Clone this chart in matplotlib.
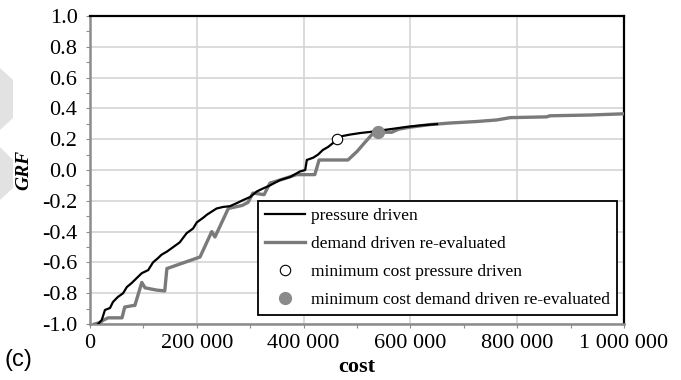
import numpy as np
import matplotlib.pyplot as plt
from matplotlib.patches import Polygon
from matplotlib.ticker import MultipleLocator, FuncFormatter

# pressure driven front
cost_pd = [15000, 22000, 28000, 37500, 43000, 52000, 62000, 69000, 78000, 88000,
           97000, 109000, 118000, 128000, 134000, 144000, 156000, 168000, 181000, 193000,
           200000, 212000, 219000, 228000, 237000, 249000, 262000, 275000, 287000, 300000,
           312000, 324000, 337000, 356000, 375000, 393000, 403000, 406000, 418000, 427000,
           436000, 446000, 455000, 463000, 472000, 487000, 506000, 524000, 540000, 562000,
           593000, 620000, 650000]
grf_pd = [-1.0, -0.974, -0.909, -0.896, -0.857, -0.825, -0.80, -0.76, -0.734, -0.70,
          -0.67, -0.65, -0.60, -0.57, -0.55, -0.53, -0.50, -0.47, -0.41, -0.38,
          -0.34, -0.31, -0.29, -0.27, -0.25, -0.24, -0.235, -0.215, -0.195, -0.175,
          -0.14, -0.12, -0.10, -0.065, -0.045, -0.01, 0.0, 0.065, 0.08, 0.10,
          0.13, 0.15, 0.175, 0.20, 0.22, 0.23, 0.24, 0.247, 0.255, 0.265,
          0.28, 0.29, 0.298]

# demand driven front, re-evaluated
cost_dd = [9000, 19000, 25000, 34000, 60000, 65000, 81000, 84000, 97000, 103000,
           125000, 140000, 144000, 206000, 228000, 234000, 259000, 285000, 296000, 305000,
           326000, 337000, 356000, 387000, 421000, 429000, 483000, 500000, 515000, 528000,
           540000, 565000, 578000, 599000, 637000, 674000, 725000, 762000, 787000, 855000,
           861000, 936000, 1000000]
grf_dd = [-1.0, -0.99, -0.975, -0.96, -0.96, -0.89, -0.88, -0.88, -0.73, -0.765,
          -0.78, -0.785, -0.64, -0.565, -0.40, -0.435, -0.25, -0.23, -0.21, -0.15,
          -0.16, -0.085, -0.065, -0.03, -0.03, 0.065, 0.065, 0.12, 0.18, 0.23,
          0.245, 0.245, 0.265, 0.278, 0.295, 0.305, 0.315, 0.325, 0.34, 0.345,
          0.352, 0.357, 0.365]

# minimum cost solutions
min_pd = (463000, 0.20)
min_dd = (540000, 0.245)

serif = ["Liberation Serif", "DejaVu Serif"]


def thousands(x, pos):
    return f"{int(round(x)):,}".replace(",", " ")


def make_plot(file_out):
    fig = plt.figure(figsize=(6.81, 3.80), dpi=100)
    ax = fig.add_axes([90/681, 1-324/380, 534/681, 308/380])

    # faint page marks on the left edge
    for pts in ([(0, 68), (13, 80), (13, 118), (0, 130)],
                [(0, 147), (13, 160), (13, 188), (0, 200)]):
        fig.patches.append(Polygon([(x/681, 1-y/380) for x, y in pts], closed=True,
                                   transform=fig.transFigure, facecolor="#e2e2e2",
                                   edgecolor="none", zorder=0))

    ax.plot(cost_pd, grf_pd, "-", color="black", lw=1.6, label="pressure driven", zorder=4)
    ax.plot(cost_dd, grf_dd, "-", color="#7a7a7a", lw=2.4, label="demand driven re-evaluated", zorder=3)
    ax.plot(*min_pd, "o", ms=7.5, mfc="white", mec="black", mew=0.8,
            label="minimum cost pressure driven", zorder=5)
    ax.plot(*min_dd, "o", ms=8.5, mfc="#8a8a8a", mec="#8a8a8a",
            label="minimum cost demand driven re-evaluated", zorder=5)

    ax.set_xlim(0, 1000000)
    ax.set_ylim(-1.0, 1.0)
    ax.xaxis.set_major_locator(MultipleLocator(200000))
    ax.xaxis.set_minor_locator(MultipleLocator(100000))
    ax.yaxis.set_major_locator(MultipleLocator(0.2))
    ax.yaxis.set_minor_locator(MultipleLocator(0.1))
    ax.xaxis.set_major_formatter(FuncFormatter(thousands))
    ax.yaxis.set_major_formatter(FuncFormatter(lambda y, p: f"{y:.1f}".replace("-0.0", "0.0")))
    ax.grid(True, which="major", color="#d4d4d4", lw=1.2)
    ax.set_axisbelow(True)

    for side in ("left", "bottom"):
        ax.spines[side].set_color("#8c8c8c")
        ax.spines[side].set_linewidth(1.8)
    for side in ("top", "right"):
        ax.spines[side].set_color("black")
        ax.spines[side].set_linewidth(1.6)

    ax.tick_params(which="both", direction="out", length=3, width=0.8, color="#8c8c8c")
    ax.tick_params(axis="y", which="major", pad=6)
    ax.tick_params(axis="x", which="major", pad=4)
    for lab in ax.get_xticklabels() + ax.get_yticklabels():
        lab.set_family(serif)
        lab.set_fontsize(16)

    ax.set_ylabel("GRF", family=serif, fontsize=14, fontweight="bold", style="italic", labelpad=7)
    ax.set_xlabel("cost", family=serif, fontsize=16, fontweight="bold", labelpad=3)

    leg = ax.legend(loc="lower left", bbox_to_anchor=(0.3146, 0.029, 0.672, 0.367),
                    mode="expand", prop={"family": serif, "size": 12.5},
                    fancybox=False, framealpha=1, edgecolor="black",
                    handlelength=2.3, handletextpad=0.35, labelspacing=0.68,
                    borderpad=0.4, borderaxespad=0)
    leg.get_frame().set_linewidth(1.3)

    fig.text(5/681, 1-366/380, "(c)", family=["Liberation Sans"], fontsize=17)

    plt.savefig(file_out, dpi=100)
    plt.close()


if __name__ == "__main__":
    make_plot("out.png")
